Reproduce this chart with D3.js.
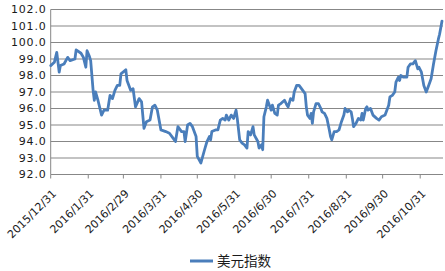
<!DOCTYPE html>
<html>
<head>
<meta charset="utf-8">
<script src="https://cdn.jsdelivr.net/npm/d3@7"></script>
<style>
  html, body { margin: 0; padding: 0; background: #ffffff; }
  svg { display: block; }
</style>
</head>
<body>
<svg id="chart" width="445" height="271"></svg>
<script>
// ---- data ----
const seriesName = "美元指数";
const dates = [
  "2015-12-31","2016-01-03","2016-01-05","2016-01-07","2016-01-08","2016-01-11","2016-01-14","2016-01-16",
  "2016-01-20","2016-01-21","2016-01-25","2016-01-27","2016-01-29","2016-01-30","2016-02-01","2016-02-02",
  "2016-02-04","2016-02-05","2016-02-06","2016-02-08","2016-02-11","2016-02-13","2016-02-16","2016-02-18",
  "2016-02-20","2016-02-22","2016-02-24","2016-02-26","2016-02-27","2016-03-02","2016-03-03","2016-03-06",
  "2016-03-08","2016-03-10","2016-03-13","2016-03-15","2016-03-17","2016-03-19","2016-03-22","2016-03-24",
  "2016-03-26","2016-03-28","2016-03-31","2016-04-04","2016-04-07","2016-04-10","2016-04-12","2016-04-14",
  "2016-04-17","2016-04-19","2016-04-20","2016-04-22","2016-04-24","2016-04-26","2016-04-29","2016-04-30",
  "2016-05-03","2016-05-06","2016-05-08","2016-05-10","2016-05-11","2016-05-12","2016-05-15","2016-05-17",
  "2016-05-19","2016-05-21","2016-05-23","2016-05-24","2016-05-26","2016-05-28","2016-05-30","2016-06-01",
  "2016-06-02","2016-06-04","2016-06-06","2016-06-08","2016-06-10","2016-06-11","2016-06-13","2016-06-15",
  "2016-06-16","2016-06-19","2016-06-20","2016-06-22","2016-06-23","2016-06-24","2016-06-26","2016-06-27",
  "2016-06-30","2016-07-01","2016-07-03","2016-07-05","2016-07-06","2016-07-08","2016-07-11","2016-07-13",
  "2016-07-14","2016-07-16","2016-07-18","2016-07-19","2016-07-21","2016-07-23","2016-07-25","2016-07-28",
  "2016-07-29","2016-07-30","2016-08-01","2016-08-02","2016-08-03","2016-08-04","2016-08-06","2016-08-08",
  "2016-08-10","2016-08-11","2016-08-13","2016-08-15","2016-08-17","2016-08-18","2016-08-19","2016-08-21",
  "2016-08-23","2016-08-25","2016-08-27","2016-08-29","2016-08-30","2016-09-01","2016-09-02","2016-09-04",
  "2016-09-05","2016-09-06","2016-09-08","2016-09-10","2016-09-12","2016-09-13","2016-09-14","2016-09-16",
  "2016-09-17","2016-09-18","2016-09-20","2016-09-22","2016-09-25","2016-09-27","2016-09-29","2016-10-02",
  "2016-10-03","2016-10-05","2016-10-06","2016-10-08","2016-10-10","2016-10-11","2016-10-13","2016-10-14",
  "2016-10-15","2016-10-17","2016-10-20","2016-10-21","2016-10-23","2016-10-25","2016-10-27","2016-10-29",
  "2016-10-30","2016-11-01","2016-11-03","2016-11-05","2016-11-07","2016-11-09","2016-11-11","2016-11-13",
  "2016-11-15","2016-11-16","2016-11-17","2016-11-18"
];
const values = [
  98.6, 98.8, 99.4, 98.2, 98.6, 98.7, 99.1, 98.9,
  99.0, 99.55, 99.35, 99.1, 98.5, 99.5, 99.15, 98.9,
  97.1, 96.5, 97.0, 96.5, 95.6, 95.9, 95.9, 96.8,
  96.6, 97.1, 97.4, 97.4, 98.1, 98.35, 97.7, 97.1,
  97.2, 96.1, 96.6, 96.4, 94.8, 95.2, 95.3, 96.1,
  96.2, 95.9, 94.7, 94.6, 94.5, 94.2, 94.0, 94.9,
  94.6, 94.6, 94.0, 95.0, 95.1, 94.9, 94.3, 93.1,
  92.7, 93.5, 94.0, 94.3, 94.1, 94.6, 94.7, 94.7,
  95.3, 95.4, 95.3, 95.6, 95.3, 95.6, 95.4, 95.9,
  95.4, 94.1, 93.9, 93.8, 93.6, 94.6, 94.4, 94.9,
  94.4, 94.0, 93.6, 93.8, 93.5, 95.5, 96.1, 96.5,
  95.9, 96.2, 95.7, 95.6, 96.2, 96.3, 96.5, 96.2,
  96.1, 96.6, 96.5, 97.0, 97.4, 97.4, 97.2, 96.9,
  96.1, 95.6, 95.4, 95.7, 95.1, 95.8, 96.3, 96.3,
  96.0, 95.8, 95.7, 95.4, 94.7, 94.3, 94.1, 94.6,
  94.6, 94.7, 95.2, 95.6, 96.0, 95.8, 95.9, 95.8,
  95.4, 94.9, 95.1, 95.4, 95.3, 95.7, 95.3, 96.0,
  96.1, 95.9, 96.0, 95.6, 95.4, 95.3, 95.5, 95.6,
  95.8, 96.2, 96.7, 96.8, 97.0, 97.6, 97.9, 97.7,
  98.0, 97.9, 97.9, 98.5, 98.7, 98.7, 98.9, 98.4,
  98.5, 98.2, 97.4, 97.0, 97.4, 97.8, 98.7, 99.5,
  100.2, 100.5, 100.9, 101.3
];
const tickDates = ["2015-12-31","2016-01-31","2016-02-29","2016-03-31","2016-04-30","2016-05-31",
                   "2016-06-30","2016-07-31","2016-08-31","2016-09-30","2016-10-31"];
const tickLabels = ["2015/12/31","2016/1/31","2016/2/29","2016/3/31","2016/4/30","2016/5/31",
                    "2016/6/30","2016/7/31","2016/8/31","2016/9/30","2016/10/31"];
const yTicks = [92,93,94,95,96,97,98,99,100,101,102];
const domainEnd = "2016-11-18";

// ---- drawing ----
(function () {
  const parse = d3.utcParse("%Y-%m-%d");
  const data = dates.map((d, i) => ({ date: parse(d), value: values[i] }));

  const svg = d3.select("#chart");
  const plotLeft = 50.7, plotRight = 443, plotTop = 9.5, plotBottom = 174.5;

  const x = d3.scaleUtc().domain([parse(dates[0]), parse(domainEnd)]).range([plotLeft, 442]);
  const y = d3.scaleLinear().domain([92, 102]).range([plotBottom, plotTop]);

  const gridColor = "#878787";
  const textColor = "#1a1a1a";

  // horizontal gridlines
  svg.append("g").selectAll("line").data(yTicks).join("line")
    .attr("x1", plotLeft).attr("x2", plotRight)
    .attr("y1", d => y(d)).attr("y2", d => y(d))
    .attr("stroke", gridColor).attr("stroke-width", 1);

  // y axis line
  svg.append("line")
    .attr("x1", plotLeft).attr("x2", plotLeft).attr("y1", plotTop).attr("y2", plotBottom)
    .attr("stroke", gridColor).attr("stroke-width", 1);

  // y labels
  svg.append("g").selectAll("text").data(yTicks).join("text")
    .attr("x", 46.5).attr("y", d => y(d)).attr("dy", "0.36em")
    .attr("text-anchor", "end")
    .attr("font-family", "DejaVu Sans, sans-serif").attr("font-size", 11)
    .attr("letter-spacing", "0.8px")
    .attr("fill", textColor)
    .text(d => d.toFixed(1));

  // x ticks
  const tickData = tickDates.map((d, i) => ({ date: parse(d), label: tickLabels[i] }));
  svg.append("g").selectAll("line").data(tickData).join("line")
    .attr("x1", d => x(d.date)).attr("x2", d => x(d.date))
    .attr("y1", plotBottom).attr("y2", plotBottom + 4)
    .attr("stroke", gridColor).attr("stroke-width", 1);

  // x labels
  svg.append("g").selectAll("text").data(tickData).join("text")
    .attr("transform", d => `translate(${x(d.date) + 3.5},${plotBottom + 17}) rotate(-45)`)
    .attr("text-anchor", "end").attr("dy", "0.35em")
    .attr("font-family", "DejaVu Sans, sans-serif").attr("font-size", 11)
    .attr("fill", textColor)
    .text(d => d.label);

  // series line
  const line = d3.line().x(d => x(d.date)).y(d => y(d.value));
  svg.append("path").datum(data)
    .attr("d", line)
    .attr("fill", "none")
    .attr("stroke", "#4A7EBB")
    .attr("stroke-width", 2.8)
    .attr("stroke-linejoin", "round")
    .attr("stroke-linecap", "round");

  // legend
  const lg = svg.append("g");
  lg.append("line").attr("x1", 190).attr("x2", 213).attr("y1", 261).attr("y2", 261)
    .attr("stroke", "#4A7EBB").attr("stroke-width", 3);
  lg.append("text").attr("x", 217).attr("y", 261).attr("dy", "0.36em")
    .attr("font-family", "Noto Sans CJK SC, sans-serif").attr("font-size", 13.5)
    .attr("fill", textColor)
    .text(seriesName);
})();
</script>
</body>
</html>
